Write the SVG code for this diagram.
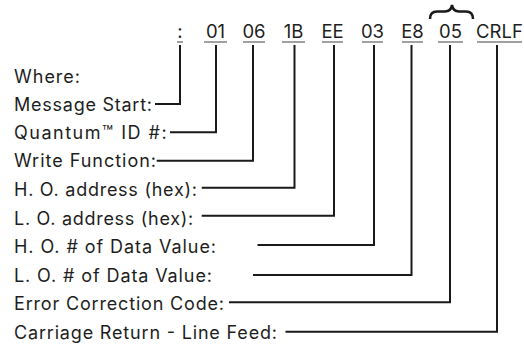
<svg xmlns="http://www.w3.org/2000/svg" width="524" height="347" viewBox="0 0 524 347">
<style>
.lbl{font-family:Inter,"Open Sans","Liberation Sans",sans-serif;font-size:18px;fill:#1e1e1e}
.tok{font-family:Inter,"Open Sans","Liberation Sans",sans-serif;font-size:18.5px;fill:#1e1e1e;text-anchor:middle}
.ul{stroke:#444;stroke-width:1.2;fill:none}
.con{stroke:#1a1a1a;stroke-width:2;fill:none;stroke-linejoin:miter}
</style>
<rect width="524" height="347" fill="#fff"/>
<g id="message">
<text class="tok" x="180" y="38">:</text>
<text class="tok" x="215.5" y="38">01</text>
<text class="tok" x="254" y="38">06</text>
<text class="tok" x="293.5" y="38">1B</text>
<text class="tok" x="332.5" y="38">EE</text>
<text class="tok" x="372.5" y="38">03</text>
<text class="tok" x="412.5" y="38">E8</text>
<text class="tok" x="450.5" y="38">05</text>
<text class="tok" x="499.5" y="38">CRLF</text>
<path class="ul" d="M177 42H183M204 42H227M243 42H265M282 42H305M322 42H343M362 42H383M402 42H423M438 42H463M477 42H522"/>
<path id="brace" d="M430 19Q430 11.5 437 11.5L445 11.5Q451 11.5 452 5Q453 11.5 459 11.5L466 11.5Q473 11.5 473 19" stroke="#1a1a1a" stroke-width="2.5" fill="none"/>
</g>
<g id="labels">
<text class="lbl" x="14" y="83" textLength="66">Where:</text>
<text class="lbl" x="14" y="111" textLength="138">Message Start:</text>
<text class="lbl" x="14" y="139.3" textLength="152.7">Quantum™ ID #:</text>
<text class="lbl" x="14" y="167.3" textLength="142">Write Function:</text>
<text class="lbl" x="14" y="196" textLength="183">H. O. address (hex):</text>
<text class="lbl" x="14" y="224.5" textLength="179.3">L. O. address (hex):</text>
<text class="lbl" x="14" y="253" textLength="202">H. O. # of Data Value:</text>
<text class="lbl" x="14" y="281.5" textLength="198">L. O. # of Data Value:</text>
<text class="lbl" x="14" y="310" textLength="210">Error Correction Code:</text>
<text class="lbl" x="14" y="338.5" textLength="263">Carriage Return - Line Feed:</text>
</g>
<g id="connectors">
<polyline class="con" points="180,45 180,104 155,104"/>
<polyline class="con" points="216,45 216,132.3 170,132.3"/>
<polyline class="con" points="253,45 253,160.7 156.7,160.7"/>
<polyline class="con" points="294.5,45 294.5,187.7 201.7,187.7"/>
<polyline class="con" points="334,45 334,215.7 201.7,215.7"/>
<polyline class="con" points="374,45 374,245 257.5,245"/>
<polyline class="con" points="411.5,45 411.5,275 253,275"/>
<polyline class="con" points="450,45 450,302.3 229,302.3"/>
<polyline class="con" points="497,45 497,331.7 285.5,331.7"/>
</g>
</svg>
